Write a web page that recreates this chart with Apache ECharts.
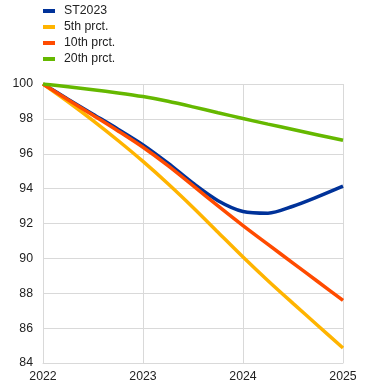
<!DOCTYPE html>
<html><head><meta charset="utf-8">
<script src="https://cdn.jsdelivr.net/npm/echarts@6/dist/echarts.min.js"></script>
<style>html,body{margin:0;padding:0;background:#fff}#c{width:372px;height:390px}</style>
</head><body><div id="c"></div>
<script>
var years = [2022, 2022.25, 2022.5, 2022.75, 2023, 2023.25, 2023.5, 2023.75, 2024, 2024.25, 2024.5, 2024.75, 2025];
var seriesNames = ['ST2023', '5th prct.', '10th prct.', '20th prct.'];
var st2023 = [100, 99.13, 98.27, 97.41, 96.51, 95.46, 94.31, 93.31, 92.69, 92.59, 92.99, 93.54, 94.14];
var p5 = [100, 98.98, 97.9, 96.76, 95.56, 94.28, 92.92, 91.5, 90.08, 88.72, 87.42, 86.14, 84.86];
var p10 = [100, 99.1, 98.21, 97.31, 96.37, 95.32, 94.17, 93.01, 91.88, 90.8, 89.73, 88.66, 87.59];
var p20 = [100, 99.84, 99.67, 99.49, 99.28, 99.01, 98.69, 98.35, 98.02, 97.7, 97.39, 97.08, 96.77];
var xTicks = [2022, 2023, 2024, 2025];
var colors = ['#003299', '#FFB400', '#FF4B00', '#65B800'];
var allData = [st2023, p5, p10, p20];
var chart = echarts.init(document.getElementById('c'));
chart.setOption({
  animation: false,
  legend: {
    orient: 'vertical', left: 38, top: 0, itemGap: 4,
    itemWidth: 12, itemHeight: 4, icon: 'rect',
    textStyle: {fontFamily: 'Liberation Sans, Arial', fontSize: 12.3, color: '#222', padding: [0, 0, 0, 4]},
    data: seriesNames
  },
  grid: {left: 43, right: 29, top: 84, bottom: 27},
  xAxis: {
    type: 'value', min: xTicks[0], max: xTicks[xTicks.length - 1], interval: 1,
    axisLine: {show: true, lineStyle: {color: '#d9d9d9'}},
    axisTick: {show: false},
    splitLine: {show: true, lineStyle: {color: '#d9d9d9'}},
    axisLabel: {color: '#222', fontFamily: 'Liberation Sans, Arial', fontSize: 12.3, margin: 8, formatter: function(v){return String(v);}}
  },
  yAxis: {
    type: 'value', min: 84, max: 100, interval: 2,
    axisLine: {show: false}, axisTick: {show: false},
    splitLine: {show: true, lineStyle: {color: '#d9d9d9'}},
    axisLabel: {color: '#222', fontFamily: 'Liberation Sans, Arial', fontSize: 12.3, margin: 10}
  },
  series: seriesNames.map(function(n, i){
    return {
      name: n, type: 'line', smooth: 0.3, showSymbol: false,
      color: colors[i], lineStyle: {width: 3.5, color: colors[i]},
      data: years.map(function(y, j){return [y, allData[i][j]];})
    };
  })
});
</script></body></html>
